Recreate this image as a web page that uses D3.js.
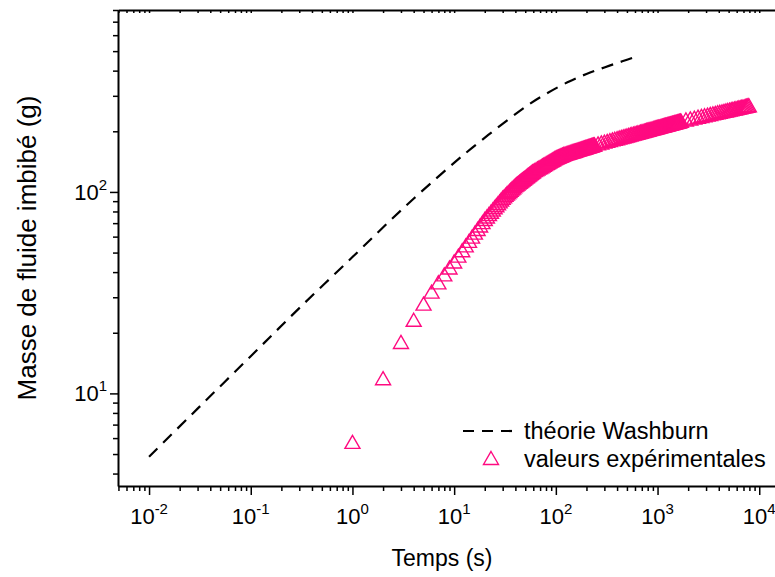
<!DOCTYPE html>
<html><head><meta charset="utf-8">
<script src="https://cdn.jsdelivr.net/npm/d3@7"></script>
<style>
body{margin:0;background:#fff}
svg{display:block}
text{font-family:"Liberation Sans",Arial,Helvetica,sans-serif;fill:#000}
</style>
</head><body>
<svg id="chart" width="775" height="577"></svg>
<script>
// ---------------- data ----------------
const washburnTime = [0.01, 0.03, 0.1, 0.3, 1, 3, 8.5, 15, 33, 55, 81, 130, 200, 300, 450, 620];
const washburnMass = [4.85, 8.4, 15.3, 26.5, 47.5, 81, 130, 165.5, 226, 273, 308, 350, 385, 415, 445, 470];

const expTime = [
  1,2,3,4,5,6,7,8,9,10,11,12,13,14,15,16,17,18,19,20,
  21,22,23,24,25,26,27,28,29,30,31,32,33,34,35,36,37,38,39,40,
  41,42,43,44,45,46,47,48,49,50,51,52,53,54,55,56,57,58,59,60,
  62,64,66,68,70,72,74,76,78,80,82,84,86,88,90,92,94,96,98,100,
  102,104,106,108,110,112,114,116,118,120,
  123,126,129,132,135,138,141,144,147,150,153,156,159,162,165,168,171,174,177,180,
  183,186,189,192,195,198,201,204,207,210,213,216,219,222,225,228,231,234,237,240,
  260,280,300,320,340,360,380,400,420,440,460,480,500,520,540,560,580,600,620,640,
  660,680,700,720,740,760,780,800,820,840,860,880,900,920,940,960,980,1000,1020,1040,
  1060,1080,1100,1120,1140,1160,1180,1200,1220,1240,1260,1280,1300,1320,1340,1360,1380,1400,1420,1440,
  1460,1480,1500,1520,1540,1560,1580,1600,1620,1640,1660,1680,1700,
  1900,2100,2300,2500,2700,2900,3100,3300,3500,3700,3900,4100,4300,4500,4700,4900,5100,5300,5500,5700,
  5900,6100,6300,6500,6700,6900,7100,7300,7500,7700,7900
];
const expMass = [
  5.75,11.9,18.0,23.2,27.9,32.0,35.6,39.0,42.2,45.2,48.3,51.4,54.3,57.2,60.0,62.8,65.5,68.2,70.8,73.4,
  75.6,77.7,79.8,81.9,83.9,85.9,87.9,89.8,91.7,93.6,95.1,96.7,98.2,99.6,101.1,102.5,104.0,105.3,106.7,108.1,
  109.2,110.2,111.3,112.3,113.3,114.3,115.3,116.3,117.2,118.2,119.1,120.1,121.0,121.9,122.8,123.7,124.6,125.4,126.3,127.1,
  128.4,129.6,130.8,132.0,133.1,134.2,135.3,136.4,137.5,138.6,139.6,140.6,141.6,142.6,143.5,144.5,145.4,146.3,147.3,148.1,
  148.7,149.4,150.0,150.6,151.2,151.8,152.4,153.0,153.6,154.2,
  154.8,155.4,156.0,156.6,157.1,157.7,158.2,158.8,159.3,159.8,160.3,160.8,161.3,161.8,162.3,162.7,163.2,163.6,164.1,164.5,
  165.0,165.4,165.8,166.2,166.7,167.1,167.5,167.9,168.3,168.6,169.0,169.4,169.8,170.2,170.5,170.9,171.2,171.6,171.9,172.3,
  174.2,176.0,177.7,179.3,180.8,182.3,183.6,184.9,186.2,187.4,188.6,189.7,190.7,191.8,192.8,193.8,194.7,195.6,196.5,197.4,
  198.2,199.1,199.9,200.6,201.4,202.1,202.9,203.6,204.3,205.0,205.6,206.3,206.9,207.6,208.2,208.8,209.4,210.0,210.6,211.1,
  211.7,212.2,212.8,213.3,213.8,214.3,214.9,215.4,215.9,216.3,216.8,217.3,217.8,218.2,218.7,219.1,219.6,220.0,220.4,220.9,
  221.3,221.7,222.1,222.5,222.9,223.3,223.7,224.1,224.5,224.9,225.3,225.6,226.0,
  228.9,231.5,233.9,236.2,238.3,240.2,242.1,243.8,245.4,247.0,248.5,249.9,251.3,252.6,253.9,255.1,256.2,257.4,258.5,259.5,
  260.5,261.5,262.5,263.4,264.4,265.3,266.1,267.0,267.8,268.6,269.4
];

const xMajorTicks = [1e-2, 1e-1, 1, 10, 100, 1000, 10000];
const xTickExponents = ["-2", "-1", "0", "1", "2", "3", "4"];
const yMajorTicks = [10, 100];
const yTickExponents = ["1", "2"];
const legendLabels = ["théorie Washburn", "valeurs expérimentales"];
const xTitle = "Temps (s)";
const yTitle = "Masse de fluide imbibé (g)";

// ---------------- layout ----------------
const PINK = "#ff0a80";
const svg = d3.select("#chart");
const x = d3.scaleLog().domain([0.00495, 16000]).range([118, 780]);
const y = d3.scaleLog().domain([3.47, 800]).range([486, 10]);
const plotLeft = 118, plotBottom = 486, plotTop = 10, plotRight = 780;

function minorTicks(scale, decadesFrom, decadesTo) {
  const out = [];
  const [d0, d1] = scale.domain();
  for (let e = decadesFrom; e <= decadesTo; e++) {
    for (let k = 2; k <= 9; k++) {
      const v = k * Math.pow(10, e);
      if (v >= d0 && v <= d1) out.push(v);
    }
  }
  return out;
}
const xMinor = minorTicks(x, -3, 4);
const yMinor = minorTicks(y, 0, 2);

function styleAxis(g, w) {
  g.selectAll("path.domain").attr("stroke", w ? "#000" : "none").attr("stroke-width", w);
  g.selectAll(".tick line").attr("stroke", "#000").attr("stroke-width", 1.5);
  g.selectAll(".tick text").remove();
}

// bottom axis
svg.append("g").attr("transform", `translate(0,${plotBottom})`)
  .call(d3.axisBottom(x).tickValues(xMinor).tickSize(5).tickSizeOuter(0).tickFormat(""))
  .call(g => styleAxis(g, 0));
svg.append("g").attr("transform", `translate(0,${plotBottom})`)
  .call(d3.axisBottom(x).tickValues(xMajorTicks).tickSize(9).tickSizeOuter(0).tickFormat(""))
  .call(g => styleAxis(g, 2));
// top axis (ticks inward, no labels)
svg.append("g").attr("transform", `translate(0,${plotTop})`)
  .call(d3.axisTop(x).tickValues(xMinor.concat(xMajorTicks)).tickSize(-3).tickSizeOuter(0).tickFormat(""))
  .call(g => styleAxis(g, 2));
// left axis
svg.append("g").attr("transform", `translate(${plotLeft},0)`)
  .call(d3.axisLeft(y).tickValues(yMinor).tickSize(5).tickSizeOuter(0).tickFormat(""))
  .call(g => styleAxis(g, 0));
svg.append("g").attr("transform", `translate(${plotLeft},0)`)
  .call(d3.axisLeft(y).tickValues(yMajorTicks).tickSize(8).tickSizeOuter(0).tickFormat(""))
  .call(g => styleAxis(g, 2));

// tick labels with superscripts
xMajorTicks.forEach((v, i) => {
  const t = svg.append("text").attr("x", x(v)).attr("y", 524)
    .attr("text-anchor", "middle").style("font-size", "22px");
  t.append("tspan").text("10");
  t.append("tspan").attr("dy", -10).style("font-size", "15px").text(xTickExponents[i]);
});
yMajorTicks.forEach((v, i) => {
  const t = svg.append("text").attr("x", 107).attr("y", y(v) + 8)
    .attr("text-anchor", "end").style("font-size", "22px");
  t.append("tspan").text("10");
  t.append("tspan").attr("dy", -10).style("font-size", "15px").text(yTickExponents[i]);
});

// axis titles
svg.append("text").attr("x", 442).attr("y", 566).attr("text-anchor", "middle")
  .style("font-size", "23px").text(xTitle);
svg.append("text").attr("transform", `translate(36,248) rotate(-90)`).attr("text-anchor", "middle")
  .style("font-size", "26px").text(yTitle);

// clip
svg.append("clipPath").attr("id", "plot").append("rect")
  .attr("x", plotLeft).attr("y", plotTop).attr("width", plotRight - plotLeft).attr("height", plotBottom - plotTop);

// Washburn dashed curve
const line = d3.line().x(d => x(d[0])).y(d => y(d[1])).curve(d3.curveCatmullRom.alpha(0.5));
svg.append("path").datum(washburnTime.map((t, i) => [t, washburnMass[i]]))
  .attr("d", line).attr("fill", "none").attr("stroke", "#000")
  .attr("stroke-width", 2.2).attr("stroke-dasharray", "12,8");

// triangle marker centered on its bounding box
const triType = {
  draw(ctx, size) {
    const w = Math.sqrt(size), h = w * 0.87;
    ctx.moveTo(0, -h / 2); ctx.lineTo(w / 2, h / 2); ctx.lineTo(-w / 2, h / 2); ctx.closePath();
  }
};
const tri = d3.symbol().type(triType).size(15 * 15);
svg.append("g").attr("clip-path", "url(#plot)").selectAll("path")
  .data(expTime.map((t, i) => [t, expMass[i]]))
  .join("path")
  .attr("transform", d => `translate(${x(d[0])},${y(d[1])})`)
  .attr("d", tri).attr("fill", "none").attr("stroke", PINK).attr("stroke-width", 1.4);

// legend
const lg = svg.append("g");
lg.append("line").attr("x1", 463).attr("x2", 513).attr("y1", 431).attr("y2", 431)
  .attr("stroke", "#000").attr("stroke-width", 2.2).attr("stroke-dasharray", "11,8");
lg.append("text").attr("x", 524).attr("y", 439).style("font-size", "23.5px").text(legendLabels[0]);
lg.append("path").attr("transform", "translate(491,458)").attr("d", tri)
  .attr("fill", "none").attr("stroke", PINK).attr("stroke-width", 1.4);
lg.append("text").attr("x", 524).attr("y", 467).style("font-size", "23.5px").text(legendLabels[1]);
</script>
</body></html>
